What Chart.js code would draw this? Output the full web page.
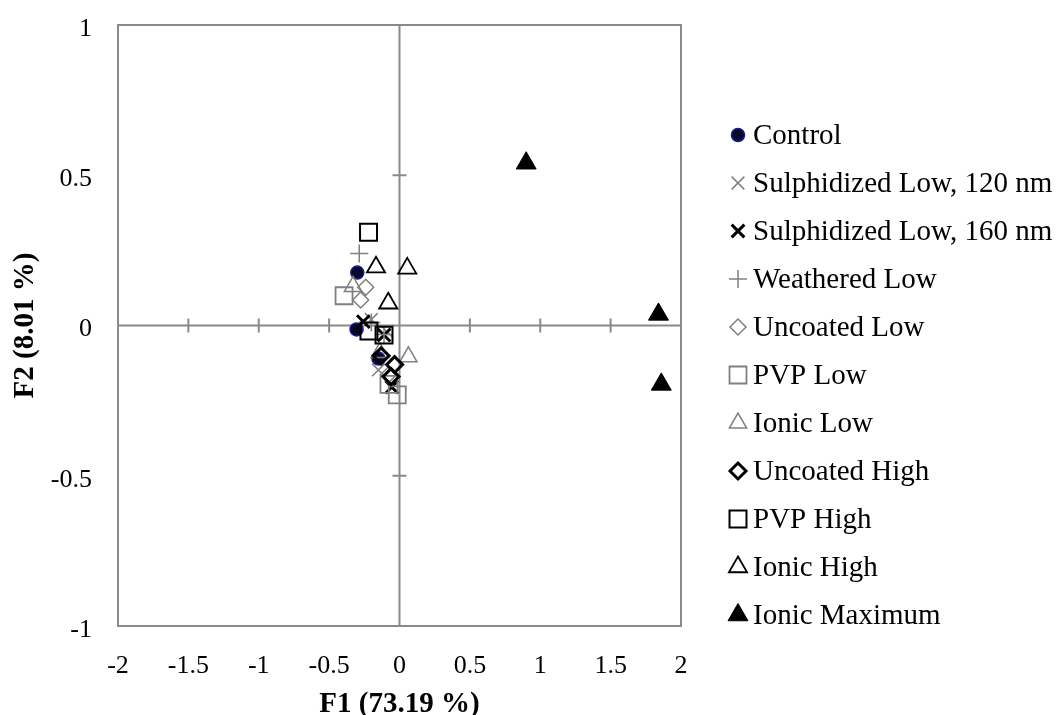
<!DOCTYPE html>
<html>
<head>
<meta charset="utf-8">
<script src="https://cdn.jsdelivr.net/npm/chart.js@4/dist/chart.umd.min.js"></script>
<style>
html,body{margin:0;padding:0;background:#fff;}
#wrap{width:1060px;height:715px;position:relative;}
</style>
</head>
<body>
<div id="wrap"><canvas id="c"></canvas></div>
<script>
// ---- data (F1, F2 scores) ----
const seriesNames = ['Control','Sulphidized Low, 120 nm','Sulphidized Low, 160 nm','Weathered Low','Uncoated Low','PVP Low','Ionic Low','Uncoated High','PVP High','Ionic High','Ionic Maximum'];
const control        = [[-0.300, 0.176], [-0.305, -0.013], [-0.150, -0.110]];
const sulphLow120    = [[-0.200, 0.020], [-0.090, -0.020], [-0.150, -0.148]];
const sulphLow160    = [[-0.257, 0.013], [-0.110, -0.032], [-0.055, -0.205]];
const weatheredLow   = [[-0.286, 0.240], [-0.200, 0.010], [-0.110, -0.030]];
const uncoatedLow    = [[-0.240, 0.127], [-0.276, 0.085], [-0.080, -0.165]];
const pvpLow         = [[-0.394, 0.099], [-0.075, -0.196], [-0.016, -0.231]];
const ionicLow       = [[-0.330, 0.130], [0.063, -0.104], [-0.140, -0.090]];
const uncoatedHigh   = [[-0.131, -0.101], [-0.035, -0.130], [-0.060, -0.170]];
const pvpHigh        = [[-0.220, 0.310], [-0.217, -0.018], [-0.110, -0.032]];
const ionicHigh      = [[-0.167, 0.194], [0.055, 0.190], [-0.080, 0.074]];
const ionicMaximum   = [[0.900, 0.540], [1.840, 0.037], [1.860, -0.196]];
const seriesValues = [control, sulphLow120, sulphLow160, weatheredLow, uncoatedLow, pvpLow, ionicLow, uncoatedHigh, pvpHigh, ionicHigh, ionicMaximum];

const xTickValues = [-2, -1.5, -1, -0.5, 0, 0.5, 1, 1.5, 2];
const xTickLabels = ['-2', '-1.5', '-1', '-0.5', '0', '0.5', '1', '1.5', '2'];
const yTickValues = [-1, -0.5, 0, 0.5, 1];
const yTickLabels = ['-1', '-0.5', '0', '0.5', '1'];
const xTitle = 'F1 (73.19 %)';
const yTitle = 'F2 (8.01 %)';

// ---- marker styles (not data) ----
const GRAY = '#808080', BLACK = '#000000';
const styles = [
  {pointStyle:'circle',    radius:6.5, fill:'#08082a', stroke:'#1a1a8c', width:1.5},
  {pointStyle:'crossRot',  radius:9,   fill:'transparent', stroke:GRAY,  width:1.5},
  {pointStyle:'crossRot',  radius:9,   fill:'transparent', stroke:BLACK, width:3},
  {pointStyle:'cross',     radius:9,   fill:'transparent', stroke:GRAY,  width:1.5},
  {pointStyle:'rectRot',   radius:8,   fill:'transparent', stroke:GRAY,  width:1.5},
  {pointStyle:'rect',      radius:12,  fill:'transparent', stroke:GRAY,  width:1.8},
  {pointStyle:'triangle',  radius:10,  fill:'transparent', stroke:GRAY,  width:1.5},
  {pointStyle:'rectRot',   radius:8,   fill:'transparent', stroke:BLACK, width:3},
  {pointStyle:'rect',      radius:12,  fill:'transparent', stroke:BLACK, width:2},
  {pointStyle:'triangle',  radius:10.5,fill:'transparent', stroke:BLACK, width:1.8},
  {pointStyle:'triangle',  radius:11.5,fill:BLACK,         stroke:BLACK, width:1}
];

const datasets = seriesNames.map((name, i) => ({
  label: name,
  data: seriesValues[i].map(p => ({x: p[0], y: p[1]})),
  pointStyle: styles[i].pointStyle,
  pointRadius: styles[i].radius,
  pointHoverRadius: styles[i].radius,
  backgroundColor: styles[i].fill,
  borderColor: styles[i].stroke,
  borderWidth: styles[i].width,
  order: seriesNames.length - i,
  showLine: false
}));

const AXIS_GRAY = '#8a8a8a';
const framePlugin = {
  id: 'frame',
  beforeDatasetsDraw(chart) {
    const {ctx, chartArea: a, scales: {x, y}} = chart;
    ctx.save();
    ctx.strokeStyle = AXIS_GRAY;
    ctx.lineWidth = 2;
    ctx.strokeRect(a.left, a.top, a.right - a.left, a.bottom - a.top);
    const x0 = x.getPixelForValue(0), y0 = y.getPixelForValue(0);
    ctx.beginPath();
    ctx.moveTo(a.left, y0); ctx.lineTo(a.right, y0);
    ctx.moveTo(x0, a.top); ctx.lineTo(x0, a.bottom);
    xTickValues.forEach(v => {
      if (v === 0 || Math.abs(v) === 2) return;
      const px = x.getPixelForValue(v);
      ctx.moveTo(px, y0 - 7); ctx.lineTo(px, y0 + 7);
    });
    yTickValues.forEach(v => {
      if (v === 0 || Math.abs(v) === 1) return;
      const py = y.getPixelForValue(v);
      ctx.moveTo(x0 - 7, py); ctx.lineTo(x0 + 7, py);
    });
    ctx.stroke();
    ctx.restore();
  }
};

const legendPlugin = {
  id: 'sideLegend',
  afterDraw(chart) {
    const {ctx, chartArea: a} = chart;
    chart.data.datasets.forEach((ds, i) => {
      const cx = a.right + 57;
      const cy = a.top + 110 + i * 48;
      ctx.save();
      ctx.fillStyle = ds.backgroundColor;
      ctx.strokeStyle = ds.borderColor;
      ctx.lineWidth = ds.borderWidth;
      Chart.helpers.drawPoint(ctx, {pointStyle: ds.pointStyle, radius: ds.pointRadius, rotation: 0, borderWidth: ds.borderWidth}, cx, cy);
      ctx.fillStyle = '#000';
      ctx.font = '29px "Liberation Serif"';
      ctx.textBaseline = 'middle';
      ctx.textAlign = 'left';
      ctx.fillText(ds.label, cx + 15, cy + 1);
      ctx.restore();
    });
  }
};

const tickFont = {family: 'Liberation Serif', size: 26};
const titleFont = {family: 'Liberation Serif', size: 29, weight: 'bold'};

new Chart(document.getElementById('c'), {
  type: 'scatter',
  data: {datasets},
  options: {
    responsive: true,
    maintainAspectRatio: false,
    animation: false,
    layout: {padding: {top: 25, right: 379, left: 0, bottom: 0}},
    plugins: {legend: {display: false}, tooltip: {enabled: false}},
    scales: {
      x: {
        type: 'linear', min: -2, max: 2,
        grid: {display: false, drawTicks: false},
        border: {display: false},
        afterBuildTicks: s => { s.ticks = xTickValues.map(v => ({value: v})); },
        afterFit: s => { s.height = 89; s.paddingLeft = 0; s.paddingRight = 0; },
        ticks: {font: tickFont, color: '#000', padding: 25, maxRotation: 0, autoSkip: false,
                callback: (v, i) => xTickLabels[i]},
        title: {display: true, text: xTitle, font: titleFont, color: '#000', padding: {top: 0, bottom: -7}}
      },
      y: {
        type: 'linear', min: -1, max: 1,
        grid: {display: false, drawTicks: false},
        border: {display: false},
        afterBuildTicks: s => { s.ticks = yTickValues.map(v => ({value: v})); },
        afterFit: s => { s.width = 118; s.paddingTop = 0; s.paddingBottom = 0; },
        ticks: {font: tickFont, color: '#000', padding: 26, labelOffset: 4, autoSkip: false,
                callback: (v, i) => yTickLabels[i]},
        title: {display: true, text: yTitle, font: titleFont, color: '#000', padding: {top: 8, bottom: 0}}
      }
    }
  },
  plugins: [framePlugin, legendPlugin]
});
</script>
</body>
</html>
